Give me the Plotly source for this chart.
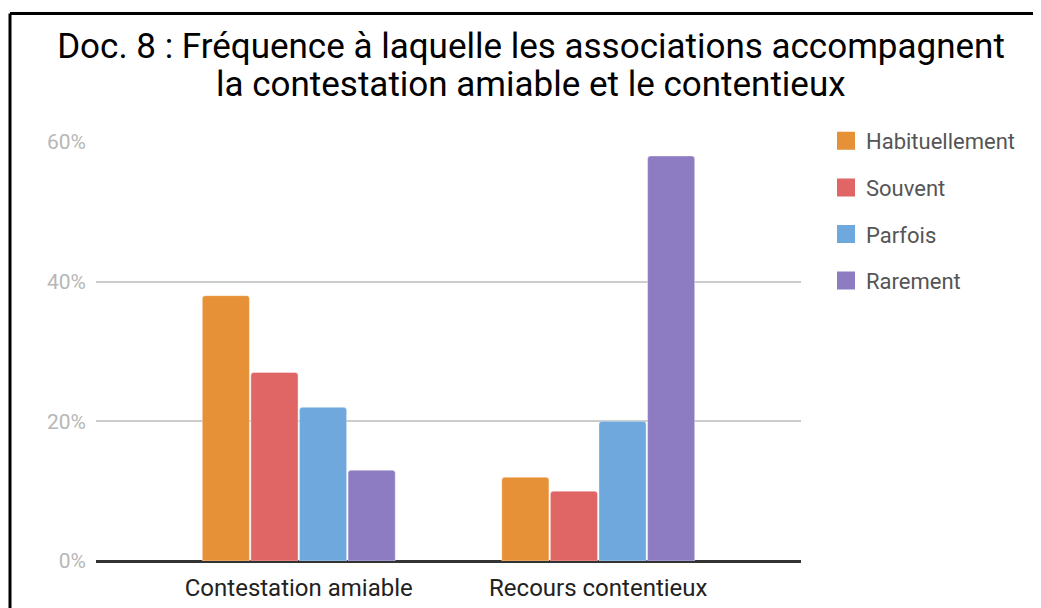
import plotly.graph_objects as go

categories = ["Contestation amiable", "Recours contentieux"]
series_names = ["Habituellement", "Souvent", "Parfois", "Rarement"]
habituellement = [0.38, 0.12]
souvent = [0.27, 0.10]
parfois = [0.22, 0.20]
rarement = [0.13, 0.58]
colors = ["#E69138", "#E06666", "#6FA8DC", "#8E7CC3"]
title_line1 = "Doc. 8 : Fréquence à laquelle les associations accompagnent"
title_line2 = "la contestation amiable et le contentieux"

values = [habituellement, souvent, parfois, rarement]

# page body has an 8px margin; figure coordinates are page - 8
W, H = 1033, 600
ML, MT = 88, 134
PLOT_R, PLOT_B = 793, 553
MR, MB = W - PLOT_R, H - PLOT_B
PW, PH = PLOT_R - ML, PLOT_B - MT

fig = go.Figure()
for name, vals, col in zip(series_names, values, colors):
    fig.add_trace(go.Bar(
        x=categories, y=vals, name=name, legendgroup=name, showlegend=False,
        marker=dict(color=col, line=dict(width=0.6, color="rgba(255,255,255,0.6)")),
        hoverinfo="x+y+name",
    ))
# legend-only entries with larger square swatches
for name, col in zip(series_names, colors):
    fig.add_trace(go.Scatter(
        x=[None], y=[None], mode="markers", name=name, legendgroup=name,
        marker=dict(symbol="square", size=16, color=col, line=dict(width=2, color=col)),
        hoverinfo="skip",
    ))

# frame (decoration) in paper coordinates
fx0 = (2 - ML) / PW
fy1 = 1 + (MT - 5.5) / PH
fig.add_shape(type="line", xref="paper", yref="paper", x0=fx0, x1=fx0, y0=-0.5, y1=fy1,
              line=dict(color="black", width=3))
fig.add_shape(type="line", xref="paper", yref="paper", x0=fx0, x1=1.6, y0=fy1, y1=fy1,
              line=dict(color="black", width=3))

# second title line
fig.add_annotation(
    text=title_line2, xref="paper", yref="paper",
    x=(523 - ML) / PW, y=1 + (MT - 76) / PH, xanchor="center", yanchor="middle",
    showarrow=False, font=dict(family="Roboto", size=35, color="#000000"),
)

fig.update_layout(
    width=W, height=H,
    margin=dict(l=ML, r=MR, t=MT, b=MB, autoexpand=False),
    paper_bgcolor="white", plot_bgcolor="white",
    font=dict(family="Roboto", size=18, color="#222222"),
    title=dict(
        text=title_line1,
        x=523 / W, xanchor="center", xref="container",
        y=1 - 38 / H, yanchor="middle", yref="container",
        font=dict(family="Roboto", size=35, color="#000000"),
    ),
    barmode="group", bargap=0.351, bargroupgap=0.03,
    barcornerradius=3,
    showlegend=True,
    legend=dict(
        x=(818 - ML) / PW, xanchor="left", y=1 + 22 / PH, yanchor="top",
        font=dict(family="Roboto", size=22, color="#555555"),
        tracegroupgap=15, traceorder="grouped",
        bgcolor="rgba(0,0,0,0)",
    ),
    xaxis=dict(
        range=[-0.677, 1.677], showgrid=False, showline=False, zeroline=False,
        tickfont=dict(family="Roboto", size=24, color="#222222"), ticks="",
        ticklabelstandoff=10, automargin=False,
    ),
    yaxis=dict(
        range=[0, 0.6], dtick=0.2, tick0=0, tickformat=".0%",
        gridcolor="#cccccc", gridwidth=1.5,
        zeroline=True, zerolinecolor="#333333", zerolinewidth=2.5,
        showline=False, ticks="", ticklabelstandoff=9, automargin=False,
        tickfont=dict(family="Roboto", size=21, color="#b7b7b7"),
    ),
)

fig.write_html("out.html")
